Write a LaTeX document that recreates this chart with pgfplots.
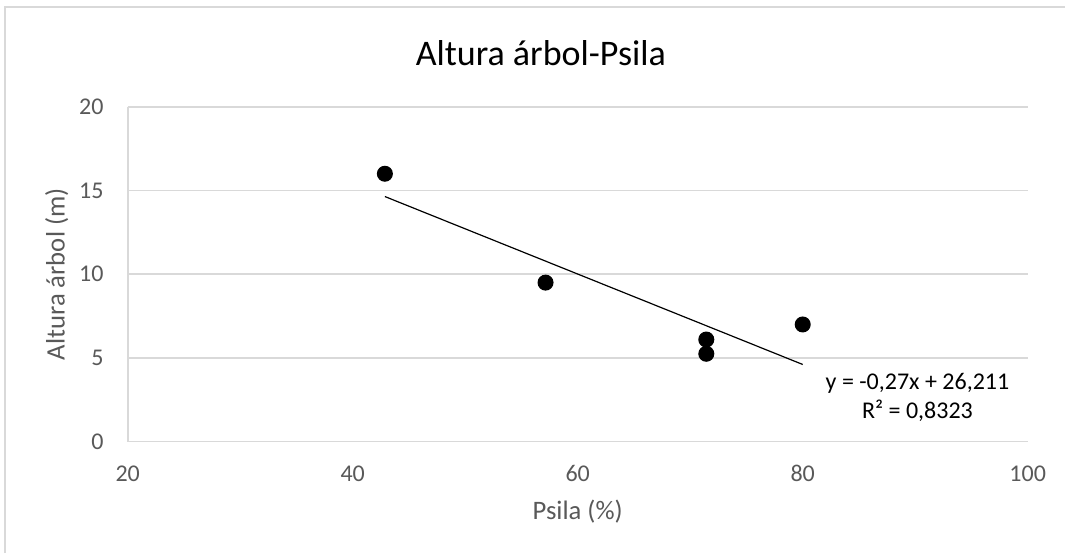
\documentclass[border=0pt]{standalone}
\usepackage{pgfplots}
\pgfplotsset{compat=1.18}
\usepackage{fontspec}
\setmainfont{Carlito}
\definecolor{gridc}{HTML}{D9D9D9}
\definecolor{txtc}{HTML}{595959}
\begin{document}
\begin{tikzpicture}
\path[use as bounding box] (0pt,0pt) rectangle (399.375pt,207.375pt);
\draw[gridc, line width=0.8pt] (1.9pt,0pt) -- (1.9pt,204.8pt) -- (399.375pt,204.8pt);
\begin{axis}[
  at={(47.89pt,41.74pt)}, anchor=south west,
  scale only axis, width=337.5pt, height=125.6pt,
  xmin=20, xmax=100, ymin=0, ymax=20,
  xtick={20,40,60,80,100}, ytick={0,5,10,15,20},
  axis x line*=bottom, axis y line*=left,
  axis line style={gridc, line width=0.6pt},
  ymajorgrids, grid style={gridc, line width=0.6pt},
  major tick length=0pt,
  tick label style={font=\fontsize{9}{10}\selectfont, text=txtc},
  /pgf/number format/assume math mode=true,
  xticklabel style={anchor=center, yshift=-11.85pt, inner sep=0pt},
  yticklabel style={anchor=east, xshift=-8.9pt, inner sep=0pt},
  title={Altura árbol-Psila},
  every axis title/.style={at={(axis description cs:0.459,1.159)}, anchor=center, font=\fontsize{13.5}{16}\selectfont, text=black},
  xlabel={Psila (\%)},
  every axis x label/.style={at={(axis description cs:0.5,-0.21)}, anchor=center, font=\fontsize{10}{12}\selectfont, text=txtc},
  ylabel={Altura árbol (m)},
  every axis y label/.style={at={(axis description cs:-0.079,0.5)}, anchor=center, rotate=90, font=\fontsize{10}{12}\selectfont, text=txtc},
  clip=false,
]
\addplot[only marks, mark=*, mark size=2.8pt, mark options={fill=black, draw=black}] coordinates {
  (42.86,16) (57.14,9.5) (71.43,6.1) (71.43,5.25) (80,7)
};
\addplot[black, line width=0.45pt] coordinates {(42.86,14.639) (80,4.611)};
\node[align=center, font=\fontsize{9}{10.9}\selectfont, text=black] at (axis cs:90.2,2.67) {y = -0,27x + 26,211\\R² = 0,8323};
\end{axis}
\end{tikzpicture}
\end{document}
